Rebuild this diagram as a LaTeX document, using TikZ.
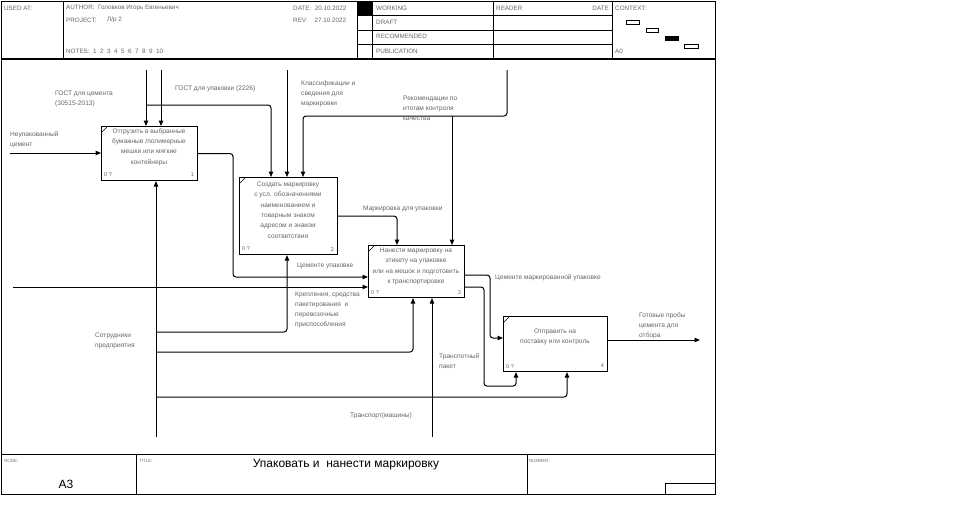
\documentclass[tikz,border=0pt]{standalone}
\usepackage{fontspec}
\setmainfont{Liberation Sans}
\usetikzlibrary{arrows.meta,calc}
\begin{document}
\begin{tikzpicture}[x=1pt,y=-1pt,
  frm/.style={draw=black,line width=0.9pt},
  proc/.style={draw=black,line width=1.1pt,anchor=north west,inner sep=0pt},
  ptxt/.style={text=black!60,font=\fontsize{6.6}{10.4}\selectfont,align=center,inner sep=0pt},
  small/.style={text=black!60,font=\fontsize{5.5}{6}\selectfont,inner sep=0pt},
  lbl/.style={text=black!60,font=\fontsize{6.6}{10}\selectfont,align=left,anchor=north west,inner sep=0pt},
  hdr/.style={text=black!60,font=\fontsize{6.3}{7}\selectfont,anchor=west,inner sep=0pt},
  tiny/.style={text=black!55,font=\fontsize{4.5}{5}\selectfont,anchor=west,inner sep=0pt},
  arr/.style={draw=black,line width=1pt,rounded corners=3pt,-{Triangle[length=5.5pt,width=4.5pt]}},
  ctx/.style={draw=black,line width=0.8pt},
]
\useasboundingbox[fill=white] (0,0) rectangle (970,515);
% ---------- frame ----------
\draw[frm] (1,1) rectangle (715,494);
\draw[draw=black,line width=1.6pt] (1,59) -- (715,59);
\foreach \xx in {63,357,372,493,612} \draw[frm] (\xx,1) -- (\xx,59);
\foreach \yy in {15,30,44} \draw[frm] (357,\yy) -- (612,\yy);
\fill[black] (357,1) rectangle (372,15);
% header texts
\node[hdr] (hUsed) at (4,8) {USED AT:};
\node[hdr] (hAuth) at (66,8) {AUTHOR:\ \ Головков Игорь Евгеньевич};
\node[hdr] (hProj) at (66,20) {PROJECT:};
\node[hdr] (hProjV) at (107,20) {Л/р 2};
\node[hdr] (hDate) at (293,8) {DATE:\ \ 20.10.2022};
\node[hdr] (hRev) at (293,20) {REV:\ \ \ \ 27.10.2022};
\node[hdr] (hNotes) at (66,51) {NOTES:\ \ 1\ \ 2\ \ 3\ \ 4\ \ 5\ \ 6\ \ 7\ \ 8\ \ 9\ \ 10};
\node[hdr] (hWork) at (376,8) {WORKING};
\node[hdr] (hDraft) at (376,22) {DRAFT};
\node[hdr] (hRec) at (376,36) {RECOMMENDED};
\node[hdr] (hPub) at (376,51) {PUBLICATION};
\node[hdr] (hRead) at (496,8) {READER};
\node[hdr,anchor=east] (hDate2) at (609,8) {DATE};
\node[hdr] (hCtx) at (615,8) {CONTEXT:};
\node[hdr] (hA0) at (615,51) {A0};
\draw[ctx] (626,20) rectangle (639,24);
\draw[ctx] (646,28) rectangle (658,32);
\draw[ctx,fill=black] (665,36) rectangle (678,40);
\draw[ctx] (684,44) rectangle (698,48);
% ---------- footer ----------
\draw[frm] (1,454) -- (715,454);
\draw[frm] (136,454) -- (136,494);
\draw[frm] (527,454) -- (527,494);
\draw[frm] (665,494) -- (665,483) -- (715,483);
\node[tiny] (fNode) at (4,461) {NODE:};
\node[tiny] (fTitle) at (139,461) {TITLE:};
\node[tiny] (fNum) at (529,461) {NUMBER:};
\node[font=\fontsize{12}{14}\selectfont,inner sep=0pt] (fA3) at (66,484) {A3};
\node[font=\fontsize{12}{14}\selectfont,inner sep=0pt] (fTitleV) at (346,465) {Упаковать и\ \ нанести маркировку};
% ---------- activity boxes ----------
\node[proc,minimum width=96,minimum height=54] (b1) at (101,126) {};
\node[proc,minimum width=98,minimum height=77] (b2) at (239,177) {};
\node[proc,minimum width=96,minimum height=52] (b3) at (368,245) {};
\node[proc,minimum width=104,minimum height=55] (b4) at (503,316) {};
\foreach \b in {b1,b2,b3,b4}{
  \draw[line width=0.6pt] ($(\b.north west)+(1,6)$) -- ($(\b.north west)+(6,1)$);
  \node[small,anchor=west] at ($(\b.south west)+(3,-6)$) {0 ?};
}
\node[small,anchor=east] (n1) at ($(b1.south east)+(-4,-6)$) {1};
\node[small,anchor=east] (n2) at ($(b2.south east)+(-4,-6)$) {2};
\node[small,anchor=east] (n3) at ($(b3.south east)+(-4,-6)$) {3};
\node[small,anchor=east] (n4) at ($(b4.south east)+(-4,-6)$) {4};
\node[ptxt] (t1) at (149,147) {Отгрузить в выбранные\\бумажные /полимерные\\мешки или мягкие\\контейнеры};
\node[ptxt] (t2) at (288,210) {Создать маркировку\\с усл. обозначениями\\наименованием и\\товарным знаком\\адресом и знаком\\соответствия};
\node[ptxt] (t3) at (416,266.5) {Нанести маркировку на\\этикету на упаковке\\или на мешок и подготовить\\к транспортировке};
\node[ptxt] (t4) at (555,337) {Отправить на\\поставку или контроль};
% ---------- free ends ----------
\coordinate (s1) at (146,70);
\coordinate (s2) at (161,70);
\coordinate (s3) at (287,70);
\coordinate (s4) at (507,70);
\coordinate (i1) at (10,153);
\coordinate (i2) at (13,287);
\coordinate (m1) at (156,437);
\coordinate (m2) at (432,437);
\coordinate (o1) at (700,340);
\coordinate (j1) at (146,105);
\coordinate (j2) at (452,116);
\coordinate (j3) at (156,332);
\coordinate (j4) at (156,352);
\coordinate (j5) at (156,397);
\coordinate (r1) at (233,0);
% ---------- connectors ----------
\draw[arr] (i1) -- (b1.west |- i1);
\draw[arr] (s1) -- (s1 |- b1.north);
\draw[arr] (s2) -- (s2 |- b1.north);
\draw[arr] (j1) -| ($(b2.north west)+(32,0)$);
\draw[arr] (s3) -- (s3 |- b2.north);
\draw[arr] (s4) -- (s4 |- j2) -| ($(b2.north west)+(64,0)$);
\draw[arr] (j2) -- (j2 |- b3.north);
\draw[arr] (b1.east) -- (b1.east -| r1) |- ($(b3.north west)+(0,32)$);
\draw[arr] (i2) -- (b3.west |- i2);
\draw[arr] ($(b2.north east)+(0,39)$) -| ($(b3.north west)+(29,0)$);
\draw[arr] ($(b3.north east)+(0,30)$) -| ($(b4.north west)+(-13,22)$) -- ($(b4.north west)+(0,22)$);
\draw[arr] ($(b3.north east)+(0,42)$) -| ($(b4.south west)+(-19,14)$) -| ($(b4.south west)+(13,0)$);
\draw[arr] ($(b4.north east)+(0,24)$) -- (o1);
\draw[arr] (m1) -- (m1 |- b1.south);
\draw[arr] (j3) -| ($(b2.south west)+(48,0)$);
\draw[arr] (j4) -| ($(b3.south west)+(45,0)$);
\draw[arr] (j5) -| ($(b4.south west)+(64,0)$);
\draw[arr] (m2) -- (m2 |- b3.south);
% ---------- labels ----------
\node[lbl] (l1) at (10,131) {Неупакованный\\цемент};
\node[lbl] (l2) at (55,91) {ГОСТ для цемента\\(30515-2013)};
\node[lbl] (l3) at (175,86) {ГОСТ для упаковки (2226)};
\node[lbl] (l4) at (301,81) {Классификации и\\сведения для\\маркировки};
\node[lbl] (l5) at (403,96) {Рекомендации по\\итогам контроля\\качества};
\node[lbl] (l6) at (363,206) {Маркировка для упаковки};
\node[lbl] (l7) at (297,263) {Цементе упаковке};
\node[lbl] (l8) at (295,292) {Крепления, средства\\пакетирования\ \ и\\перевозочные\\приспособления};
\node[lbl] (l9) at (495,274) {Цементе маркированной упаковке};
\node[lbl] (l10) at (639,312) {Готовые пробы\\цемента для\\отбора};
\node[lbl] (l11) at (95,333) {Сотрудники\\предприятия};
\node[lbl] (l12) at (439,353) {Транспотный\\пакет};
\node[lbl] (l13) at (350,413) {Транспорт(машины)};
\end{tikzpicture}
\end{document}
